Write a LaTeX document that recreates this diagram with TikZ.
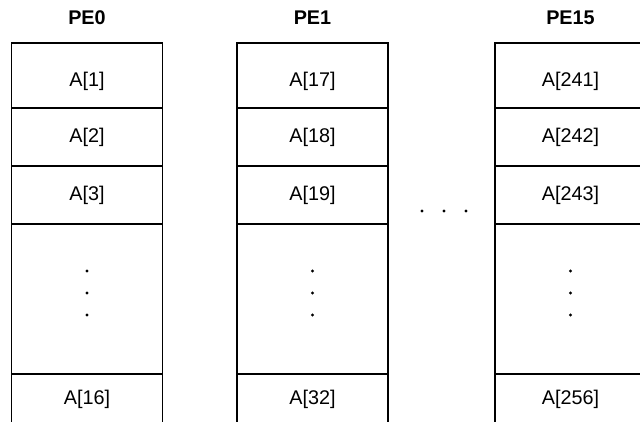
\documentclass[tikz,border=0pt]{standalone}
\usepackage{fontspec}
\setmainfont{Liberation Sans}
\begin{document}
\begin{tikzpicture}[x=1pt,y=-1pt,
  wall/.style={line width=1.6pt, line cap=rect},
  entry/.style={font=\fontsize{19.8}{22}\selectfont, inner sep=0pt},
  pelabel/.style={font=\fontsize{19.8}{22}\selectfont\bfseries, inner sep=0pt, anchor=base},
  memdot/.style={fill, circle, inner sep=0pt, minimum size=3.4pt}]
\useasboundingbox (0,0) rectangle (640,422);
\clip (0,0) rectangle (640,422);

% one memory column per processing element
\foreach \L/\pe/\a/\b/\c/\z [count=\i] in
  {11.5/PE0/1/2/3/16, 237/PE1/17/18/19/32, 495/PE15/241/242/243/256} {
  \pgfmathsetmacro{\R}{\L+151}
  \pgfmathsetmacro{\M}{\L+75.5}
  % outline, open at the bottom
  \draw[wall] (\L,440) -- (\L,43) -- (\R,43) -- (\R,440);
  % row dividers
  \foreach \y in {108,166,224,374}
    \draw[wall] (\L,\y) -- (\R,\y);
  % column title
  \node[pelabel] (pe\i) at (\M,25) {\pe};
  % stored elements
  \node[entry] (e\i-1) at (\M,81) {A[\a]};
  \node[entry] (e\i-2) at (\M,137) {A[\b]};
  \node[entry] (e\i-3) at (\M,195) {A[\c]};
  \node[entry] (e\i-4) at (\M,399) {A[\z]};
  % elision dots inside the column
  \foreach \y [count=\k] in {271,293,315}
    \node[memdot] (v\i-\k) at (\M,\y) {};
}

% elision dots between the columns
\foreach \x [count=\k] in {422,444,466}
  \node[memdot] (h\k) at (\x,211) {};
\end{tikzpicture}
\end{document}
